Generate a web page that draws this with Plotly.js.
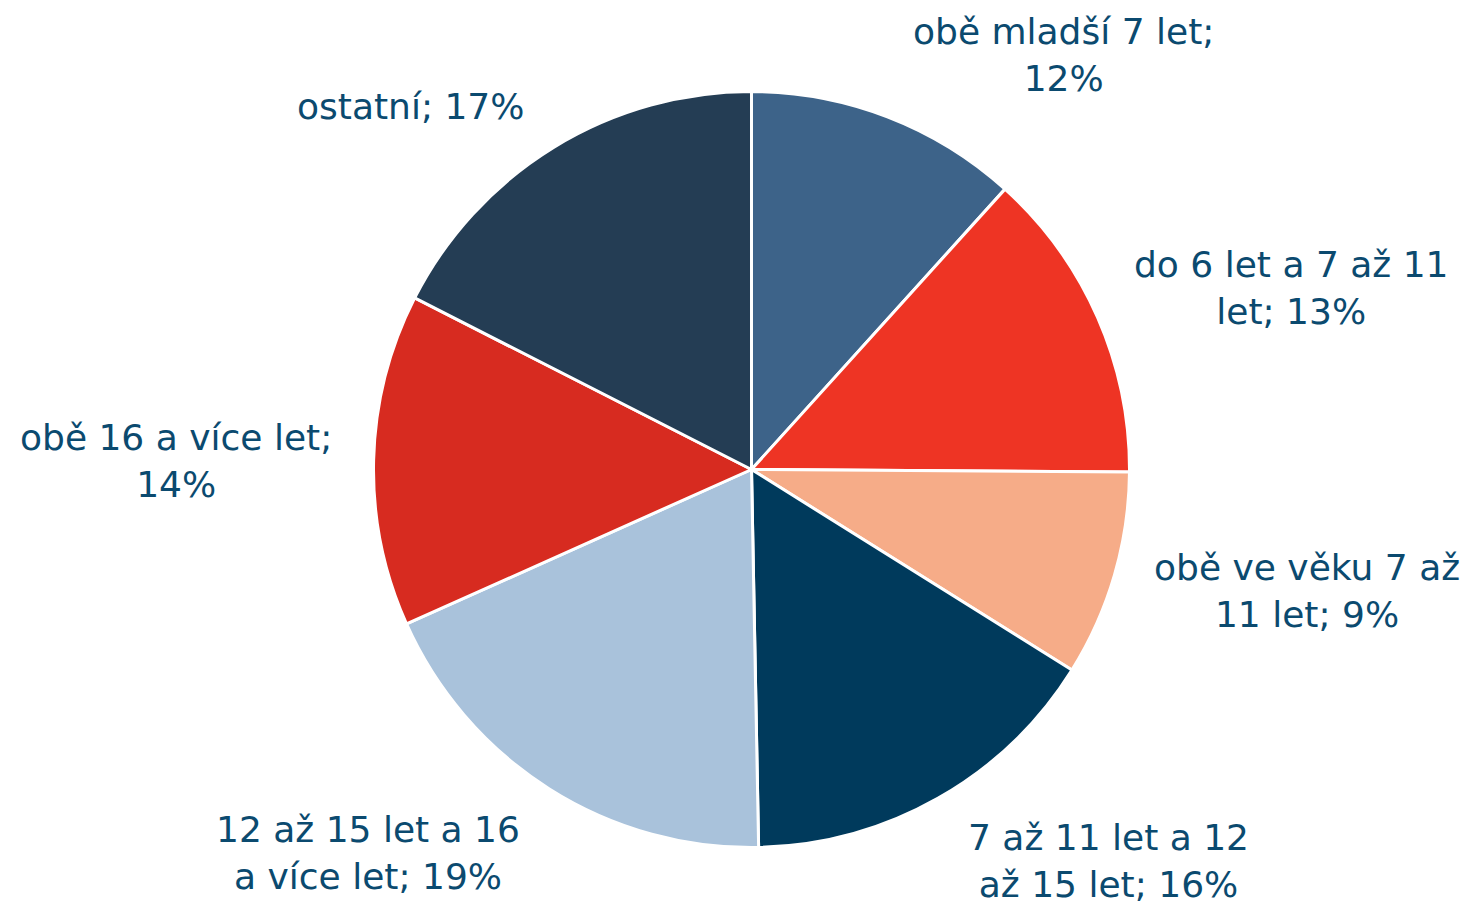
<!DOCTYPE html>
<html>
<head>
<meta charset="utf-8">
<script src="https://cdn.plot.ly/plotly-3.0.1.min.js"></script>
<style>html,body{margin:0;padding:0;background:#fff;}#chart{width:1471px;height:905px;}</style>
</head>
<body>
<div id="chart"></div>
<script>
// Data
var categories = [
  "obě mladší 7 let",
  "do 6 let a 7 až 11 let",
  "obě ve věku 7 až 11 let",
  "7 až 11 let a 12 až 15 let",
  "12 až 15 let a 16 a více let",
  "obě 16 a více let",
  "ostatní"
];
var values = [11.7, 13.4, 8.8, 15.8, 18.6, 14.2, 17.5];
var shownPercent = [12, 13, 9, 16, 19, 14, 17];
// label text as wrapped in the reference
var labelLine1 = ["obě mladší 7 let;", "do 6 let a 7 až 11", "obě ve věku 7 až", "7 až 11 let a 12", "12 až 15 let a 16", "obě 16 a více let;", "ostatní; 17%"];
var labelLine2 = ["12%", "let; 13%", "11 let; 9%", "až 15 let; 16%", "a více let; 19%", "14%", ""];

var colors = ["#3D6389", "#EE3424", "#F6AC88", "#003A5C", "#A9C2DB", "#D72B20", "#243D54"];

// label placement (pixels in the 1471x905 page)
var labelPos = [[1063, 55], [1291, 288], [1307, 591], [1108, 861], [368, 853], [176, 461], [410, 107]];

var W = 1471, H = 905;
var cx = 751.5, cy = 469.5, R = 378;

var annotations = categories.map(function (c, i) {
  var t = labelLine2[i] ? labelLine1[i] + "<br>" + labelLine2[i] : labelLine1[i];
  return {
    text: t,
    x: labelPos[i][0] / W,
    y: 1 - labelPos[i][1] / H,
    xref: "paper", yref: "paper",
    xanchor: "center", yanchor: "middle",
    showarrow: false,
    align: "center",
    font: {family: "DejaVu Sans, Verdana, sans-serif", size: 36, color: "#0B4A6F"}
  };
});

var trace = {
  type: "pie",
  labels: categories,
  values: values,
  sort: false,
  direction: "clockwise",
  rotation: 0,
  marker: {colors: colors, line: {color: "#ffffff", width: 3}},
  textinfo: "none",
  hoverinfo: "label+percent",
  showlegend: false,
  domain: {x: [(cx - R) / W, (cx + R) / W], y: [(H - cy - R) / H, (H - cy + R) / H]}
};

Plotly.newPlot("chart", [trace], {
  width: W, height: H,
  margin: {l: 0, r: 0, t: 0, b: 0},
  paper_bgcolor: "#ffffff",
  showlegend: false,
  annotations: annotations
}, {displayModeBar: false, staticPlot: true});
</script>
</body>
</html>
